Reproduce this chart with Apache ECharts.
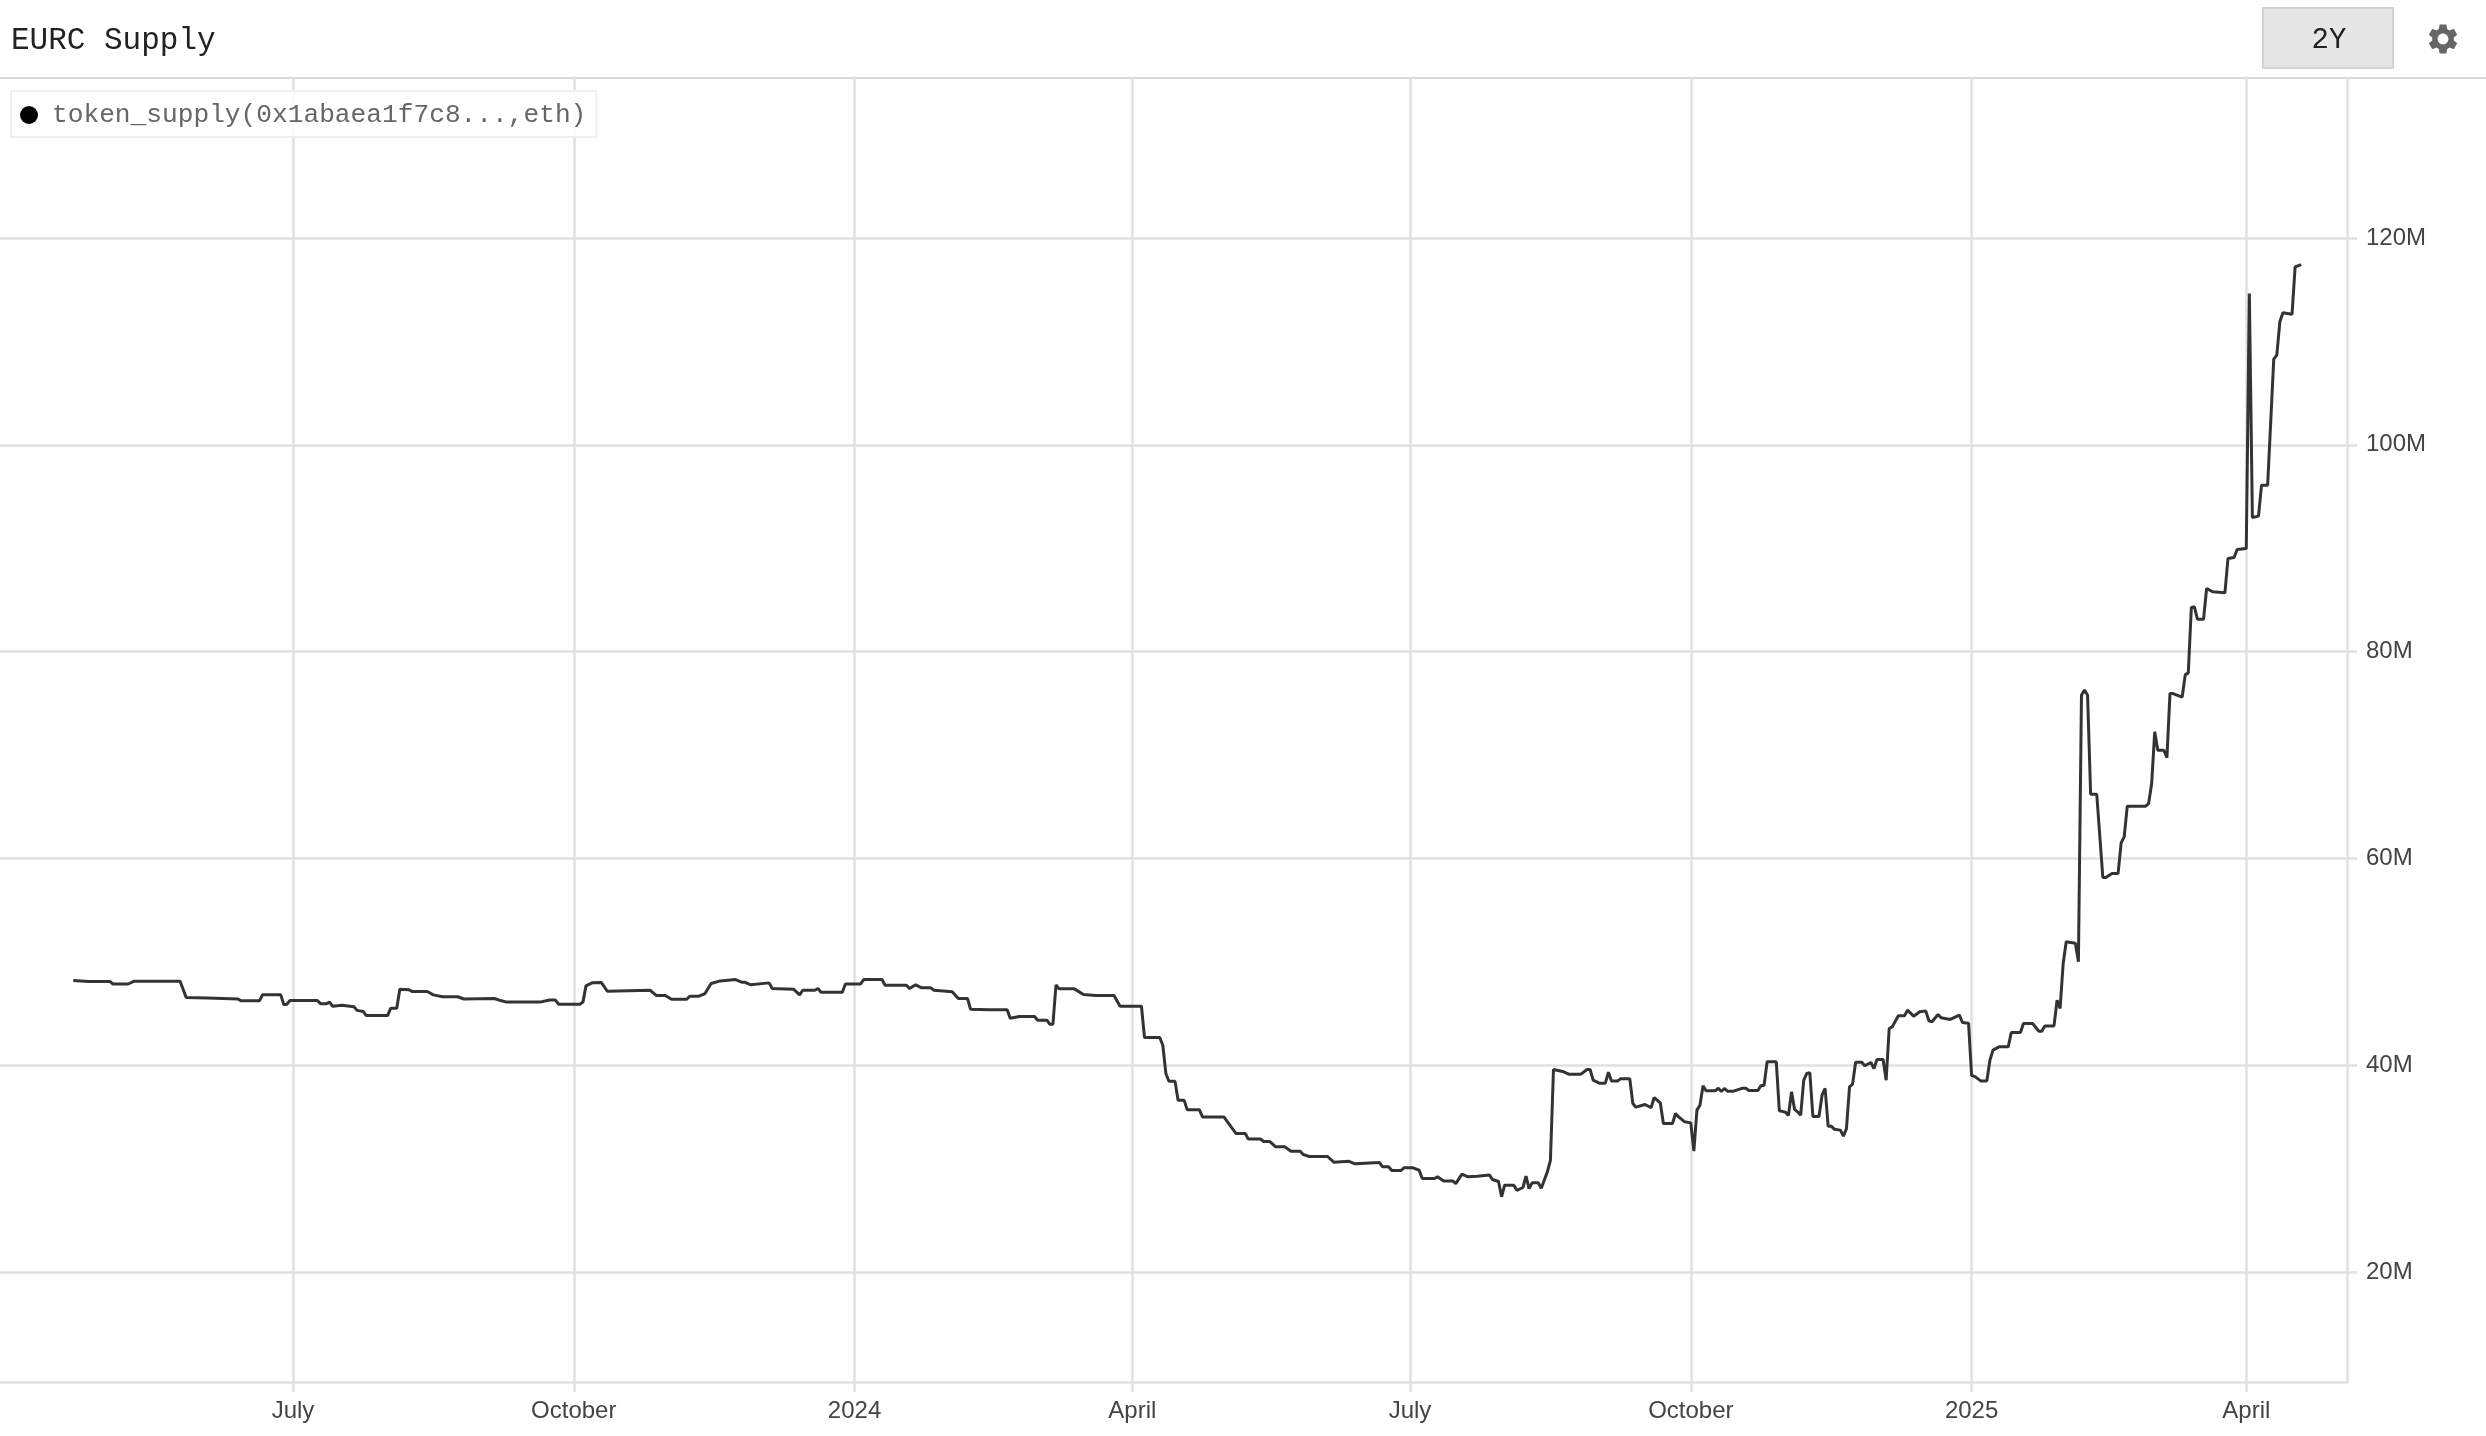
<!DOCTYPE html>
<html>
<head>
<meta charset="utf-8">
<title>EURC Supply</title>
<style>
html,body{margin:0;padding:0;background:#fff;}
#chart{width:2486px;height:1436px;}
</style>
<script src="https://cdn.jsdelivr.net/npm/echarts@6/dist/echarts.min.js"></script>
</head>
<body>
<div id="chart"></div>
<script>
//supply in millions, [date, value]
var supply2023 = [
	['2023-04-20',48.2],['2023-04-25',48.1],['2023-05-02',48.1],['2023-05-03',47.85],['2023-05-08',47.85],['2023-05-10',48.12],
	['2023-05-25',48.12],['2023-05-27',46.55],['2023-06-03',46.5],['2023-06-13',46.4],['2023-06-14',46.22],['2023-06-20',46.22],
	['2023-06-21',46.8],['2023-06-27',46.8],['2023-06-28',45.85],['2023-06-29',45.9],['2023-06-30',46.25],['2023-07-09',46.25],
	['2023-07-10',45.95],['2023-07-12',45.95],['2023-07-13',46.1],['2023-07-14',45.7],['2023-07-17',45.8],['2023-07-21',45.65],
	['2023-07-22',45.3],['2023-07-24',45.2],['2023-07-25',44.8],['2023-08-01',44.8],['2023-08-02',45.5],['2023-08-04',45.5],
	['2023-08-05',47.35],['2023-08-08',47.3],['2023-08-09',47.12],['2023-08-14',47.12],['2023-08-16',46.8],['2023-08-19',46.62],
	['2023-08-24',46.62],['2023-08-26',46.4],['2023-09-05',46.45],['2023-09-07',46.25],['2023-09-09',46.1],['2023-09-20',46.1],
	['2023-09-23',46.3],['2023-09-25',46.3],['2023-09-26',45.9],['2023-10-03',45.9],['2023-10-04',46.1],['2023-10-05',47.67],
	['2023-10-07',47.96],['2023-10-10',48.0],['2023-10-12',47.15],['2023-10-26',47.25],['2023-10-28',46.74],['2023-10-31',46.74],
	['2023-11-02',46.38],['2023-11-07',46.38],['2023-11-08',46.67],['2023-11-11',46.67],['2023-11-13',46.93],['2023-11-15',47.9],
	['2023-11-18',48.15],['2023-11-23',48.28],['2023-11-25',48.03],['2023-11-26',48.03],['2023-11-28',47.77],['2023-12-04',47.96],
	['2023-12-05',47.41],['2023-12-12',47.35],['2023-12-14',46.8],['2023-12-15',47.25],['2023-12-19',47.25],['2023-12-20',47.41],
	['2023-12-21',47.06],['2023-12-28',47.06],['2023-12-29',47.86]
];
var supply2024a = [
	['2024-01-03',47.86],['2024-01-04',48.28],['2024-01-10',48.28],['2024-01-11',47.73],['2024-01-18',47.73],['2024-01-19',47.41],
	['2024-01-21',47.77],['2024-01-23',47.48],['2024-01-26',47.48],['2024-01-27',47.25],['2024-02-02',47.1],['2024-02-04',46.45],
	['2024-02-07',46.45],['2024-02-08',45.42],['2024-02-14',45.35],['2024-02-20',45.35],['2024-02-21',44.54],['2024-02-24',44.7],
	['2024-02-29',44.7],['2024-03-01',44.35],['2024-03-04',44.35],['2024-03-05',43.96],['2024-03-06',43.96],['2024-03-07',47.77],
	['2024-03-08',47.38],['2024-03-13',47.38],['2024-03-16',46.83],['2024-03-20',46.74],['2024-03-26',46.74],['2024-03-28',45.7],
	['2024-04-04',45.7],['2024-04-05',42.67],['2024-04-10',42.67],['2024-04-11',41.93],['2024-04-12',39.2],['2024-04-13',38.45],
	['2024-04-15',38.45],['2024-04-16',36.6],['2024-04-18',36.6],['2024-04-19',35.68],['2024-04-23',35.68],['2024-04-24',35.0],
	['2024-05-01',35.0],['2024-05-05',33.39],['2024-05-08',33.39],['2024-05-09',32.87],['2024-05-13',32.87],['2024-05-14',32.62],
	['2024-05-16',32.62],['2024-05-18',32.1],['2024-05-21',32.1],['2024-05-23',31.68],['2024-05-26',31.68],['2024-05-27',31.36],
	['2024-05-29',31.17],['2024-06-04',31.17],['2024-06-06',30.62],['2024-06-11',30.7],['2024-06-13',30.46],['2024-06-21',30.58],
	['2024-06-22',30.17],['2024-06-24',30.17],['2024-06-25',29.81],['2024-06-28',29.81],['2024-06-29',30.07]
];
var supply2024b = [
	['2024-07-02',30.07],['2024-07-04',29.84],['2024-07-05',29.04],['2024-07-09',29.04],['2024-07-10',29.2],['2024-07-12',28.81],
	['2024-07-15',28.81],['2024-07-16',28.55],['2024-07-18',29.46],['2024-07-20',29.2],['2024-07-23',29.26],['2024-07-27',29.39],
	['2024-07-28',28.94],['2024-07-30',28.75],['2024-07-31',27.27],['2024-08-01',28.39],['2024-08-04',28.39],['2024-08-05',27.9],
	['2024-08-07',28.17],['2024-08-08',29.26],['2024-08-09',28.07],['2024-08-10',28.62],['2024-08-12',28.62],['2024-08-13',28.1],
	['2024-08-15',29.68],['2024-08-16',30.8],['2024-08-17',39.58],['2024-08-20',39.39],['2024-08-22',39.13],['2024-08-26',39.13],
	['2024-08-28',39.58],['2024-08-29',39.58],['2024-08-30',38.55],['2024-09-01',38.26],['2024-09-03',38.26],['2024-09-04',39.32],
	['2024-09-05',38.48],['2024-09-07',38.48],['2024-09-08',38.68],['2024-09-11',38.68],['2024-09-12',36.29],['2024-09-13',35.94],
	['2024-09-16',36.2],['2024-09-18',35.9],['2024-09-19',36.87],['2024-09-21',36.36],['2024-09-22',34.36],['2024-09-25',34.36],
	['2024-09-26',35.33],['2024-09-27',35.0],['2024-09-29',34.52],['2024-10-01',34.42],['2024-10-02',31.68],['2024-10-03',35.65],
	['2024-10-04',36.13],['2024-10-05',38.0],['2024-10-06',37.52],['2024-10-09',37.52],['2024-10-10',37.77],['2024-10-11',37.45],
	['2024-10-12',37.75],['2024-10-13',37.49],['2024-10-15',37.49],['2024-10-18',37.78],['2024-10-19',37.78],['2024-10-20',37.55],
	['2024-10-23',37.55],['2024-10-24',38.04],['2024-10-25',38.04],['2024-10-26',40.33],['2024-10-29',40.33],['2024-10-30',35.59],
	['2024-11-01',35.46],['2024-11-02',35.14],['2024-11-03',37.42],['2024-11-04',35.72],['2024-11-05',35.49],['2024-11-06',35.17],
	['2024-11-07',38.55],['2024-11-08',39.2],['2024-11-09',39.26],['2024-11-10',35.04],['2024-11-12',35.04],['2024-11-13',37.1],
	['2024-11-14',37.75],['2024-11-15',34.1],['2024-11-16',34.1],['2024-11-17',33.81],['2024-11-19',33.72],['2024-11-20',33.14],
	['2024-11-21',33.88],['2024-11-22',37.91],['2024-11-23',38.17],['2024-11-24',40.29],['2024-11-26',40.29],['2024-11-27',39.94],
	['2024-11-29',40.26],['2024-11-30',39.68],['2024-12-01',40.55],['2024-12-03',40.55],['2024-12-04',38.55],['2024-12-05',43.55],
	['2024-12-06',43.71],['2024-12-08',44.77],['2024-12-10',44.77],['2024-12-11',45.32],['2024-12-13',44.74],['2024-12-15',45.16],
	['2024-12-17',45.23],['2024-12-18',44.29],['2024-12-19',44.2],['2024-12-21',44.9],['2024-12-22',44.58],['2024-12-25',44.42],
	['2024-12-28',44.84],['2024-12-29',44.13],['2024-12-31',44.05]
];
var supply2025 = [
	['2025-01-01',39.0],['2025-01-02',38.92],['2025-01-04',38.48],['2025-01-06',38.48],['2025-01-07',40.48],['2025-01-08',41.45],
	['2025-01-10',41.77],['2025-01-13',41.77],['2025-01-14',43.16],['2025-01-17',43.16],['2025-01-18',44.03],['2025-01-21',44.03],
	['2025-01-23',43.29],['2025-01-24',43.29],['2025-01-25',43.8],['2025-01-28',43.8],['2025-01-29',46.28],['2025-01-30',45.48],
	['2025-01-31',49.83],['2025-02-01',51.93],['2025-02-04',51.8],['2025-02-05',50.0],['2025-02-06',75.78],['2025-02-07',76.27],
	['2025-02-08',75.78],['2025-02-09',66.21],['2025-02-11',66.21],['2025-02-13',58.15],['2025-02-14',58.15],['2025-02-16',58.54],
	['2025-02-18',58.54],['2025-02-19',61.5],['2025-02-20',62.08],['2025-02-21',65.05],['2025-02-27',65.05],['2025-02-28',65.3],
	['2025-03-01',67.24],['2025-03-02',72.24],['2025-03-03',70.46],['2025-03-05',70.46],['2025-03-06',69.75],['2025-03-07',75.94],
	['2025-03-08',75.94],['2025-03-11',75.6],['2025-03-12',77.75],['2025-03-13',77.94],['2025-03-14',84.26],['2025-03-15',84.33],
	['2025-03-16',83.13],['2025-03-18',83.13],['2025-03-19',86.1],['2025-03-21',85.78],['2025-03-25',85.68],['2025-03-26',89.0],
	['2025-03-28',89.1],['2025-03-29',89.87],['2025-04-01',89.97],['2025-04-02',114.63],['2025-04-03',92.97],['2025-04-05',93.1],
	['2025-04-06',96.09],['2025-04-08',96.09],['2025-04-10',108.28],['2025-04-11',108.67],['2025-04-12',111.89],['2025-04-13',112.76],
	['2025-04-16',112.63],['2025-04-17',117.21],['2025-04-19',117.43]
];
var seriesName = 'token_supply(0x1abaea1f7c8...,eth)';
var tickDates = ['2023-07-01','2023-10-01','2024-01-01','2024-04-01','2024-07-01','2024-10-01','2025-01-01','2025-04-01'];
var tickLabels = ['July','October','2024','April','July','October','2025','April'];
var yTicks = [20,40,60,80,100,120];

var gearPath = 'M19.14 12.94c.04-.3.06-.61.06-.94 0-.32-.02-.64-.07-.94l2.03-1.58c.18-.14.23-.41.12-.61l-1.92-3.32c-.12-.22-.37-.29-.59-.22l-2.39.96c-.5-.38-1.03-.7-1.62-.94l-.36-2.54c-.04-.24-.24-.41-.48-.41h-3.84c-.24 0-.43.17-.47.41l-.36 2.54c-.59.24-1.13.57-1.62.94l-2.39-.96c-.22-.08-.47 0-.59.22L2.74 8.87c-.12.21-.08.47.12.61l2.03 1.58c-.05.3-.09.63-.09.94s.02.64.07.94l-2.03 1.58c-.18.14-.23.41-.12.61l1.92 3.32c.12.22.37.29.59.22l2.39-.96c.5.38 1.03.7 1.62.94l.36 2.54c.05.24.24.41.48.41h3.84c.24 0 .44-.17.47-.41l.36-2.54c.59-.24 1.13-.56 1.62-.94l2.39.96c.22.08.47 0 .59-.22l1.92-3.32c.12-.22.07-.47-.12-.61l-2.01-1.58zM12 15.6c-1.98 0-3.6-1.62-3.6-3.6s1.62-3.6 3.6-3.6 3.6 1.62 3.6 3.6-1.62 3.6-3.6 3.6z';

var gridColor = '#e1e1e1';
var monoFont = '"Liberation Mono", monospace';
var sansFont = '"Liberation Sans", sans-serif';

function toTime(s){
	return Date.parse(s);
}

var tickTimes = [];
for(var i=0;i<tickDates.length;i++){
	tickTimes.push(toTime(tickDates[i]));
}

//x axis runs on timestamps, custom month ticks do not work on a time axis
var lineData = [];
var allSupply = supply2023.concat(supply2024a, supply2024b, supply2025);
for(var j=0;j<allSupply.length;j++){
	lineData.push([toTime(allSupply[j][0]), allSupply[j][1]]);
}

//graphic has no plain path type, register the gear as a shape
echarts.graphic.registerShape('gear', echarts.graphic.extendPath(gearPath, {}));

var myChart = echarts.init(document.getElementById('chart'));
var option = {
	animation: false,
	backgroundColor: '#fff',
	title: {
		text: 'EURC Supply',
		left: 11,
		top: 25,
		padding: 0,
		textStyle: {
			fontFamily: monoFont,
			fontSize: 31,
			fontWeight: 'normal',
			color: '#222'
		}
	},
	legend: {
		left: 11,
		top: 91,
		padding: [11,10,9,9],
		icon: 'circle',
		itemWidth: 18,
		itemHeight: 18,
		backgroundColor: 'rgba(255,255,255,0.85)',
		borderColor: '#efefef',
		borderWidth: 2,
		itemStyle: {color: '#000', borderWidth: 0},
		textStyle: {
			fontFamily: monoFont,
			fontSize: 26.2,
			color: '#666',
			padding: [0,0,0,9]
		},
		data: [seriesName]
	},
	grid: {left: 0, right: 139, top: 78, bottom: 54},
	xAxis: {
		type: 'value',
		min: toTime('2023-03-27'),
		max: toTime('2025-05-04'),
		axisLine: {lineStyle: {color: gridColor, width: 2.5}},
		axisTick: {show: true, length: 10, customValues: tickTimes, lineStyle: {color: gridColor, width: 2.5}},
		splitLine: {show: true, lineStyle: {color: gridColor, width: 2.5}},
		axisLabel: {
			customValues: tickTimes,
			margin: 17,
			fontFamily: sansFont,
			fontSize: 24,
			color: '#444',
			formatter: function(value){
				return tickLabels[tickTimes.indexOf(value)];
			}
		}
	},
	yAxis: {
		type: 'value',
		position: 'right',
		min: 9.36,
		max: 135.47,
		axisLine: {show: true, lineStyle: {color: gridColor, width: 2.5}},
		axisTick: {show: true, length: 10, customValues: yTicks, lineStyle: {color: gridColor, width: 2.5}},
		splitLine: {show: true, lineStyle: {color: gridColor, width: 2.5}},
		axisLabel: {
			customValues: yTicks,
			margin: 19,
			fontFamily: sansFont,
			fontSize: 24,
			color: '#444',
			padding: [4,0,0,0],
			formatter: '{value}M'
		}
	},
	series: [{
		name: seriesName,
		type: 'line',
		symbol: 'none',
		sampling: 'none',
		lineStyle: {color: '#333', width: 3},
		itemStyle: {color: '#000'},
		data: lineData
	}],
	//header bar above the plot
	graphic: [
		{type: 'line', silent: true, shape: {x1: 0, y1: 78, x2: 2486, y2: 78}, style: {stroke: '#d8d8d8', lineWidth: 2}},
		{type: 'rect', silent: true, shape: {x: 2263, y: 8, width: 130, height: 60}, style: {fill: '#e6e6e6', stroke: '#d2d2d2', lineWidth: 2}},
		{type: 'text', silent: true, x: 2329, y: 40, style: {text: '2Y', font: '29px ' + monoFont, fill: '#222', align: 'center', verticalAlign: 'middle'}},
		{type: 'gear', silent: true, x: 2425, y: 21, scaleX: 1.5, scaleY: 1.5, style: {fill: '#666'}}
	]
};
myChart.setOption(option);
window.addEventListener("resize",function(){
	myChart.resize();
});
</script>
</body>
</html>
